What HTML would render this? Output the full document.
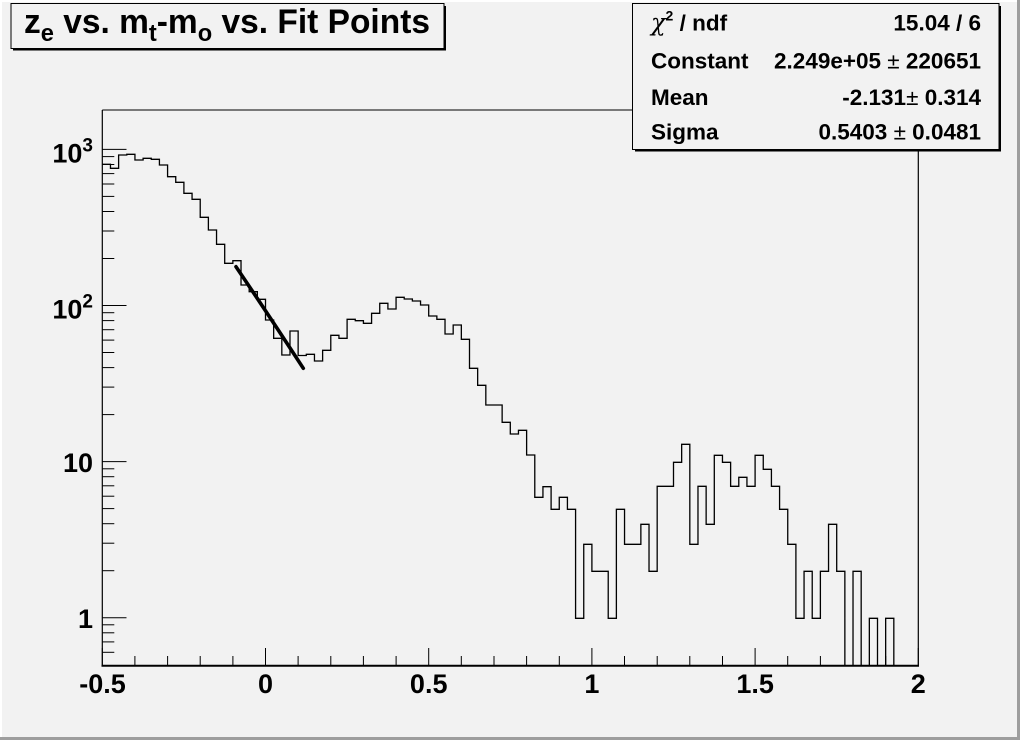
<!DOCTYPE html>
<html>
<head>
<meta charset="utf-8">
<style>
html,body{margin:0;padding:0;background:#f2f2f2;}
svg{display:block;}
text{font-family:"Liberation Sans",Arial,sans-serif;font-weight:bold;fill:#000;}
</style>
</head>
<body>
<svg width="1020" height="740" viewBox="0 0 1020 740" xmlns="http://www.w3.org/2000/svg">
<rect x="0" y="0" width="1020" height="740" fill="#f2f2f2"/>
<!-- canvas bevel -->
<rect x="0" y="0" width="1020" height="2" fill="#ffffff"/>
<rect x="0" y="0" width="2" height="740" fill="#ffffff"/>
<rect x="1017" y="0" width="3" height="740" fill="#9e9e9e"/>
<rect x="0" y="737" width="1020" height="3" fill="#9e9e9e"/>

<!-- frame -->
<line x1="102.3" y1="110" x2="918.3" y2="110" stroke="#000" stroke-width="1"/>
<line x1="918.3" y1="110" x2="918.3" y2="666" stroke="#000" stroke-width="1.2"/>
<line x1="102.3" y1="110" x2="102.3" y2="666" stroke="#000" stroke-width="1.2"/>
<line x1="101.5" y1="665.7" x2="919" y2="665.7" stroke="#000" stroke-width="2"/>

<!-- x ticks -->
<g stroke="#000" stroke-width="1">
<line x1="102.3" y1="665" x2="102.3" y2="648"/>
<line x1="134.9" y1="665" x2="134.9" y2="656"/>
<line x1="167.6" y1="665" x2="167.6" y2="656"/>
<line x1="200.2" y1="665" x2="200.2" y2="656"/>
<line x1="232.9" y1="665" x2="232.9" y2="656"/>
<line x1="265.5" y1="665" x2="265.5" y2="648"/>
<line x1="298.1" y1="665" x2="298.1" y2="656"/>
<line x1="330.8" y1="665" x2="330.8" y2="656"/>
<line x1="363.4" y1="665" x2="363.4" y2="656"/>
<line x1="396.1" y1="665" x2="396.1" y2="656"/>
<line x1="428.7" y1="665" x2="428.7" y2="648"/>
<line x1="461.3" y1="665" x2="461.3" y2="656"/>
<line x1="494.0" y1="665" x2="494.0" y2="656"/>
<line x1="526.6" y1="665" x2="526.6" y2="656"/>
<line x1="559.3" y1="665" x2="559.3" y2="656"/>
<line x1="591.9" y1="665" x2="591.9" y2="648"/>
<line x1="624.5" y1="665" x2="624.5" y2="656"/>
<line x1="657.2" y1="665" x2="657.2" y2="656"/>
<line x1="689.8" y1="665" x2="689.8" y2="656"/>
<line x1="722.5" y1="665" x2="722.5" y2="656"/>
<line x1="755.1" y1="665" x2="755.1" y2="648"/>
<line x1="787.7" y1="665" x2="787.7" y2="656"/>
<line x1="820.4" y1="665" x2="820.4" y2="656"/>
<line x1="853.0" y1="665" x2="853.0" y2="656"/>
<line x1="885.7" y1="665" x2="885.7" y2="656"/>
<line x1="918.3" y1="665" x2="918.3" y2="648"/>
</g>

<!-- y ticks -->
<g stroke="#000" stroke-width="1">
<line x1="102.3" y1="617.7" x2="126.5" y2="617.7"/>
<line x1="102.3" y1="461.6" x2="126.5" y2="461.6"/>
<line x1="102.3" y1="305.5" x2="126.5" y2="305.5"/>
<line x1="102.3" y1="149.4" x2="126.5" y2="149.4"/>
<line x1="102.3" y1="624.8" x2="114.3" y2="624.8"/>
<line x1="102.3" y1="632.8" x2="114.3" y2="632.8"/>
<line x1="102.3" y1="641.9" x2="114.3" y2="641.9"/>
<line x1="102.3" y1="652.3" x2="114.3" y2="652.3"/>
<line x1="102.3" y1="570.7" x2="114.3" y2="570.7"/>
<line x1="102.3" y1="543.2" x2="114.3" y2="543.2"/>
<line x1="102.3" y1="523.7" x2="114.3" y2="523.7"/>
<line x1="102.3" y1="508.6" x2="114.3" y2="508.6"/>
<line x1="102.3" y1="496.2" x2="114.3" y2="496.2"/>
<line x1="102.3" y1="485.8" x2="114.3" y2="485.8"/>
<line x1="102.3" y1="476.7" x2="114.3" y2="476.7"/>
<line x1="102.3" y1="468.8" x2="114.3" y2="468.8"/>
<line x1="102.3" y1="414.6" x2="114.3" y2="414.6"/>
<line x1="102.3" y1="387.1" x2="114.3" y2="387.1"/>
<line x1="102.3" y1="367.6" x2="114.3" y2="367.6"/>
<line x1="102.3" y1="352.5" x2="114.3" y2="352.5"/>
<line x1="102.3" y1="340.1" x2="114.3" y2="340.1"/>
<line x1="102.3" y1="329.7" x2="114.3" y2="329.7"/>
<line x1="102.3" y1="320.6" x2="114.3" y2="320.6"/>
<line x1="102.3" y1="312.7" x2="114.3" y2="312.7"/>
<line x1="102.3" y1="258.5" x2="114.3" y2="258.5"/>
<line x1="102.3" y1="231.0" x2="114.3" y2="231.0"/>
<line x1="102.3" y1="211.5" x2="114.3" y2="211.5"/>
<line x1="102.3" y1="196.4" x2="114.3" y2="196.4"/>
<line x1="102.3" y1="184.0" x2="114.3" y2="184.0"/>
<line x1="102.3" y1="173.6" x2="114.3" y2="173.6"/>
<line x1="102.3" y1="164.5" x2="114.3" y2="164.5"/>
<line x1="102.3" y1="156.6" x2="114.3" y2="156.6"/>
</g>

<!-- histogram -->
<path fill="none" stroke="#000" stroke-width="1.3" d="M102.3,164.3 H110.46 V168.3 H118.62 V155 H126.78 V154.3 H134.94 V160 H143.1 V158.3 H151.26 V159.3 H159.42 V165 H167.58 V176.7 H175.74 V182.3 H183.9 V193.3 H192.06 V199.3 H200.22 V217.3 H208.38 V230 H216.54 V244.3 H224.7 V263.3 H232.86 V260.7 H241.02 V285 H249.18 V291.7 H257.34 V299.3 H265.5 V320 H273.66 V338.3 H281.82 V355 H289.98 V331 H298.14 V355.5 H306.3 V354.3 H314.46 V361 H322.62 V350.3 H330.78 V335.3 H338.94 V338.3 H347.1 V319.3 H355.26 V320.7 H363.42 V323.3 H371.58 V313.3 H379.74 V303.3 H387.9 V309 H396.06 V297.3 H404.22 V299 H412.38 V301 H420.54 V305 H428.7 V316 H436.86 V319.3 H445.02 V334 H453.18 V325 H461.34 V339.3 H469.5 V368.3 H477.66 V385.3 H485.82 V405 H493.98 V405 H502.14 V422.3 H510.3 V434 H518.46 V430.3 H526.62 V455 H534.78 V497.3 H542.94 V486.7 H551.1 V509.3 H559.26 V497.3 H567.42 V509.3 H575.58 V618.3 H583.74 V544.3 H591.9 V571.3 H600.06 V571.3 H608.22 V618.3 H616.38 V509.3 H624.54 V544.3 H632.7 V544.3 H640.86 V524.3 H649.02 V571.3 H657.18 V486.3 H665.34 V486.3 H673.5 V462.3 H681.66 V444.3 H689.82 V544.3 H697.98 V486.3 H706.14 V524.3 H714.3 V455.3 H722.46 V462.3 H730.62 V486.3 H738.78 V477.3 H746.94 V486.3 H755.1 V455.3 H763.26 V469.3 H771.42 V486.3 H779.58 V509.3 H787.74 V544.3 H795.9 V618.3 H804.06 V571.3 H812.22 V618.3 H820.38 V571.3 H828.54 V524.3 H836.7 V571.3 H844.86 V665.7 H853.02 V571.3 H861.18 V665.7 H869.34 V618.3 H877.5 V665.7 H885.66 V618.3 H893.82 V665.7 H918.3"/>

<!-- fit -->
<path d="M236,266.7 Q268,314 303.3,368.3" fill="none" stroke="#000" stroke-width="3.6" stroke-linecap="round"/>

<!-- x labels -->
<g font-size="27" text-anchor="middle">
<text x="102.5" y="693">-0.5</text>
<text x="265.5" y="693">0</text>
<text x="428.7" y="693">0.5</text>
<text x="591.9" y="693">1</text>
<text x="755.1" y="693">1.5</text>
<text x="918.3" y="693">2</text>
</g>

<!-- y labels -->
<g font-size="27" text-anchor="end">
<text x="93" y="628">1</text>
<text x="93" y="472">10</text>
<text x="93" y="318.5">10<tspan font-size="19" dy="-11">2</tspan></text>
<text x="93" y="162.3">10<tspan font-size="19" dy="-11">3</tspan></text>
</g>

<!-- title box -->
<rect x="11" y="3.5" width="433" height="45" fill="#f2f2f2" stroke="#000" stroke-width="1"/>
<rect x="444" y="6" width="2" height="44.5" fill="#000"/>
<rect x="13" y="48.5" width="433" height="2" fill="#000"/>
<text x="24" y="33" font-size="34" textLength="406" lengthAdjust="spacingAndGlyphs">z<tspan font-size="24" dy="8">e</tspan><tspan dy="-8"> vs. m</tspan><tspan font-size="24" dy="8">t</tspan><tspan dy="-8">-m</tspan><tspan font-size="24" dy="8">o</tspan><tspan dy="-8"> vs. Fit Points</tspan></text>

<!-- stats box -->
<rect x="632.5" y="3.5" width="366.5" height="146" fill="#f2f2f2" stroke="#000" stroke-width="1"/>
<rect x="999" y="6" width="2" height="145.5" fill="#000"/>
<rect x="635" y="149.5" width="366" height="2" fill="#000"/>
<g font-size="22.5">
<text x="651" y="30.7"><tspan font-weight="normal" font-family="DejaVu Serif, serif" font-style="italic" font-size="24">χ</tspan><tspan font-size="14" dy="-10">2</tspan><tspan dy="10"> / ndf</tspan></text>
<text x="651" y="68.3">Constant</text>
<text x="651" y="105">Mean</text>
<text x="651" y="139.3">Sigma</text>
</g>
<g font-size="22.5" text-anchor="end">
<text x="981" y="30.7">15.04 / 6</text>
<text x="981" y="68.3">2.249e+05 <tspan font-weight="normal">±</tspan> 220651</text>
<text x="981" y="105">-2.131<tspan font-weight="normal">±</tspan> 0.314</text>
<text x="981" y="139.3">0.5403 <tspan font-weight="normal">±</tspan> 0.0481</text>
</g>
</svg>
</body>
</html>
